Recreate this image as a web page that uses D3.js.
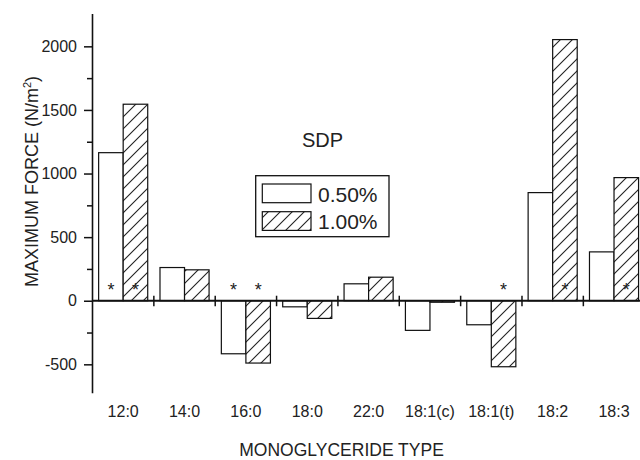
<!DOCTYPE html>
<html>
<head>
<meta charset="utf-8">
<script src="https://cdn.jsdelivr.net/npm/d3@7"></script>
<style>
  html, body { margin: 0; padding: 0; background: #fff; }
  svg { display: block; font-family: "Liberation Sans", Arial, sans-serif; }
</style>
</head>
<body>
<svg id="chart" width="640" height="460"></svg>
<script>
// ---- data ----
const categories = ["12:0", "14:0", "16:0", "18:0", "22:0", "18:1(c)", "18:1(t)", "18:2", "18:3"];
const seriesNames = ["0.50%", "1.00%"];
const values050 = [1164, 261, -417, -48, 133, -233, -189, 850, 384];
const values100 = [1545, 243, -490, -139, 185, -12, -519, 2053, 968];
const star050 = [true, false, true, false, false, false, false, false, false];
const star100 = [true, false, true, false, false, false, true, true, true];
const majorTicks = [-500, 0, 500, 1000, 1500, 2000];
const minorTicks = [-250, 250, 750, 1250, 1750];
const chartTitle = "SDP";
const xTitle = "MONOGLYCERIDE TYPE";

const svg = d3.select("#chart");

// hatch pattern
const defs = svg.append("defs");
const pat = defs.append("pattern")
  .attr("id", "hatch")
  .attr("patternUnits", "userSpaceOnUse")
  .attr("width", 12).attr("height", 12);
pat.append("rect").attr("width", 12).attr("height", 12).attr("fill", "#fff");
pat.append("path")
  .attr("d", "M0,12 L12,0 M-3,3 L3,-3 M9,15 L15,9")
  .attr("stroke", "#222").attr("stroke-width", 1.1);

// scales
const x0 = d3.scaleBand().domain(categories).range([92.5, 644.7]).paddingInner(0).paddingOuter(0);
const bw = x0.bandwidth();
const x1 = d3.scaleBand().domain(seriesNames).range([bw * 0.1, bw * 0.9]).padding(0);
const y = d3.scaleLinear().domain([-727, 2255]).range([393.2, 13.9]);

const fills = { "0.50%": "#fff", "1.00%": "url(#hatch)" };
const rows = [];
categories.forEach((c, i) => {
  rows.push({ cat: c, s: "0.50%", v: values050[i], star: star050[i] });
  rows.push({ cat: c, s: "1.00%", v: values100[i], star: star100[i] });
});

// bars
svg.append("g").selectAll("rect").data(rows).join("rect")
  .attr("x", d => x0(d.cat) + x1(d.s))
  .attr("width", x1.bandwidth())
  .attr("y", d => y(Math.max(0, d.v)))
  .attr("height", d => Math.abs(y(d.v) - y(0)))
  .attr("fill", d => fills[d.s])
  .attr("stroke", "#111")
  .attr("stroke-width", 1.2);

// asterisks
svg.append("g").selectAll("text").data(rows.filter(d => d.star)).join("text")
  .attr("x", d => x0(d.cat) + x1(d.s) + x1.bandwidth() / 2)
  .attr("y", y(120) + 10.5)
  .attr("text-anchor", "middle")
  .attr("font-size", 18)
  .attr("fill", "#222")
  .text("*");

// y axis
const yAxisG = svg.append("g").attr("transform", "translate(92.5,0)");
yAxisG.append("line").attr("x1", 0).attr("x2", 0).attr("y1", y.range()[1]).attr("y2", y.range()[0])
  .attr("stroke", "#111").attr("stroke-width", 1.6);
yAxisG.call(d3.axisLeft(y).tickValues(majorTicks).tickSize(8.5).tickPadding(7).tickFormat(d => String(d)))
  .call(g => g.select(".domain").remove())
  .call(g => g.selectAll(".tick line").attr("stroke", "#111").attr("stroke-width", 1.5))
  .call(g => g.selectAll(".tick text").attr("font-size", 16).attr("fill", "#222").attr("font-family", "Liberation Sans, Arial, sans-serif"));
yAxisG.append("g").call(d3.axisLeft(y).tickValues(minorTicks).tickSize(5.5).tickFormat(""))
  .call(g => g.select(".domain").remove())
  .call(g => g.selectAll(".tick line").attr("stroke", "#111").attr("stroke-width", 1.5));

// x axis at zero
const xAxisG = svg.append("g");
xAxisG.append("line").attr("x1", 92.5).attr("x2", 644.7).attr("y1", y(0)).attr("y2", y(0))
  .attr("stroke", "#111").attr("stroke-width", 2);
xAxisG.selectAll("line.sep").data(categories.slice(1)).join("line")
  .attr("class", "sep")
  .attr("x1", d => x0(d)).attr("x2", d => x0(d))
  .attr("y1", y(0) - 5).attr("y2", y(0) + 5.5)
  .attr("stroke", "#111").attr("stroke-width", 1.5);
xAxisG.selectAll("text").data(categories).join("text")
  .attr("x", d => x0(d) + bw / 2)
  .attr("y", 417)
  .attr("text-anchor", "middle")
  .attr("font-size", 16)
  .attr("fill", "#222")
  .text(d => d);

// titles
svg.append("text").attr("x", 322.5).attr("y", 147.3).attr("text-anchor", "middle")
  .attr("font-size", 20).attr("fill", "#222").text(chartTitle);
svg.append("text").attr("x", 239.3).attr("y", 455.5).attr("text-anchor", "start")
  .attr("font-size", 17.5).attr("fill", "#222").text(xTitle);
const yt = svg.append("text").attr("transform", "translate(37.5,181.5) rotate(-90)")
  .attr("text-anchor", "middle").attr("font-size", 18).attr("fill", "#222");
yt.append("tspan").text("MAXIMUM FORCE (N/m");
yt.append("tspan").attr("font-size", 11).attr("dy", -7).text("2");
yt.append("tspan").attr("dy", 7).text(")");

// legend
const lg = svg.append("g");
lg.append("rect").attr("x", 255.7).attr("y", 175.7).attr("width", 133.3).attr("height", 61)
  .attr("fill", "#fff").attr("stroke", "#111").attr("stroke-width", 1.3);
seriesNames.forEach((s, i) => {
  const yy = 184 + i * 27.7;
  lg.append("rect").attr("x", 262.3).attr("y", yy).attr("width", 48.7).attr("height", 18.7)
    .attr("fill", fills[s]).attr("stroke", "#111").attr("stroke-width", 1.2);
  lg.append("text").attr("x", 318).attr("y", yy + 17.6).attr("font-size", 21).attr("fill", "#222").text(s);
});
</script>
</body>
</html>
